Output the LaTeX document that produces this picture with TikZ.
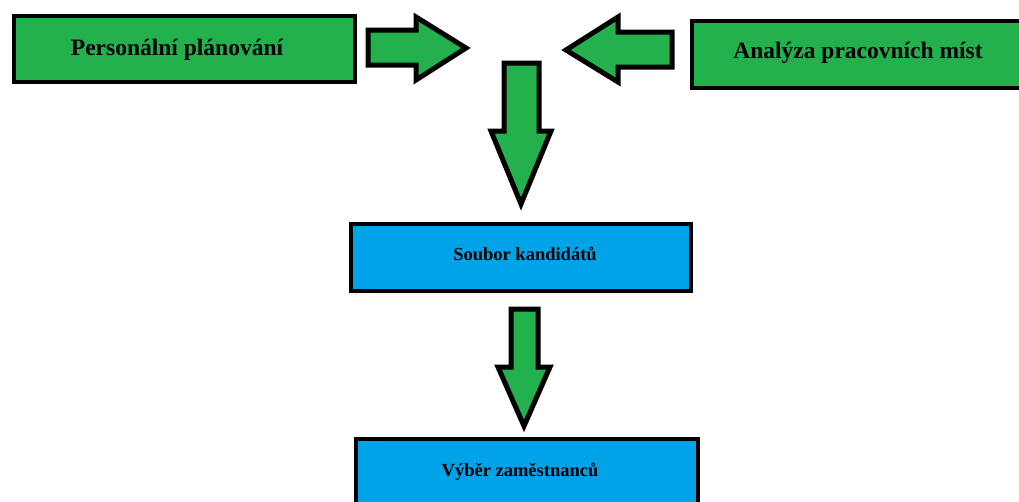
\documentclass[tikz,border=0pt]{standalone}
\usepackage{fontspec}
\setmainfont{Liberation Serif}
\definecolor{boxgreen}{HTML}{22B14C}
\definecolor{boxblue}{HTML}{00A2E8}
\begin{document}
\begin{tikzpicture}[x=1pt,y=-1pt,
  greenbox/.style={draw=black,line width=4pt,fill=boxgreen},
  bluebox/.style={draw=black,line width=4pt,fill=boxblue},
  bigtext/.style={font=\bfseries\fontsize{23.5}{26}\selectfont},
  smalltext/.style={font=\bfseries\fontsize{18.5}{22}\selectfont},
  blockarrow/.style={draw=black,line width=5pt,fill=boxgreen,line join=miter}]
\useasboundingbox (0,0) rectangle (1019,501);
\begin{scope}
\clip (0,0) rectangle (1019,501);
\node[greenbox,minimum width=341pt,minimum height=66pt,anchor=north west] (pp) at (12,14) {};
\node[bigtext] at (177,50) {Personální plánování};
\node[greenbox,minimum width=345pt,minimum height=67pt,anchor=north west] (ap) at (690,19) {};
\node[bigtext] at (858,53) {Analýza pracovních míst};
\node[bluebox,minimum width=340pt,minimum height=67pt,anchor=north west] (sk) at (349,222) {};
\node[smalltext] at (525,254) {Soubor kandidátů};
\node[bluebox,minimum width=342pt,minimum height=80pt,anchor=north west] (vz) at (354,437) {};
\node[smalltext] at (520,472) {Výběr zaměstnanců};
% block arrows
\draw[blockarrow] (368,30) -- (416,30) -- (416,17) -- (466,48) -- (416,80) -- (416,65) -- (368,65) -- cycle;
\draw[blockarrow] (672,32) -- (618,32) -- (618,17) -- (566,50) -- (618,82) -- (618,67) -- (672,67) -- cycle;
\draw[blockarrow] (504,63) -- (539,63) -- (539,131) -- (551,131) -- (521,204) -- (491,131) -- (504,131) -- cycle;
\draw[blockarrow] (511,309) -- (538,309) -- (538,367) -- (550,367) -- (524,426) -- (498,367) -- (511,367) -- cycle;
\end{scope}
\end{tikzpicture}
\end{document}
